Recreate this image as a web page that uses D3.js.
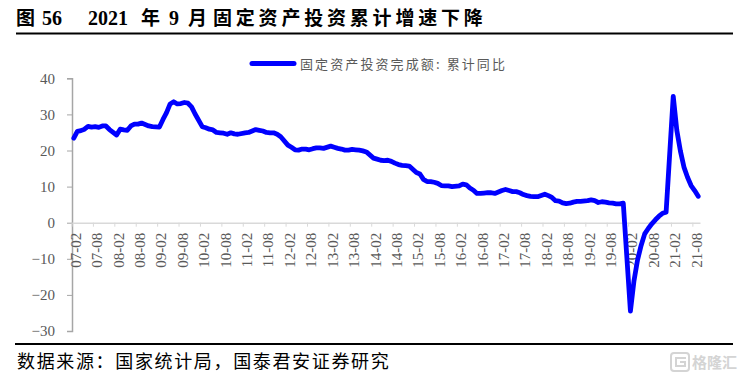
<!DOCTYPE html>
<html>
<head>
<meta charset="utf-8">
<script src="https://cdn.jsdelivr.net/npm/d3@7"></script>
<style>
html, body { margin: 0; padding: 0; background: #fff; }
svg { display: block; }
</style>
</head>
<body>
<div class="canva"></div>
<script>
const serif = '"Liberation Serif", serif'
const cjk = '"Noto Sans CJK SC", sans-serif'

// no January print in the series, each row runs Feb..Dec
const years = d3.range(2007, 2022)
const dataMonths = ['02', '03', '04', '05', '06', '07', '08', '09', '10', '11', '12']
const y2007 = [23.4, 25.3, 25.5, 25.9, 26.7, 26.5, 26.6, 26.4, 26.8, 26.8, 25.8]
const y2008 = [24.3, 25.9, 25.7, 25.6, 26.8, 27.3, 27.3, 27.6, 27.2, 26.8, 26.6]
const y2009 = [26.5, 28.6, 30.5, 32.9, 33.5, 32.9, 33.0, 33.3, 33.1, 32.1, 30.1]
const y2010 = [26.6, 26.3, 25.9, 25.7, 25.0, 24.9, 24.8, 24.5, 24.9, 24.6, 24.5]
const y2011 = [24.9, 25.0, 25.4, 25.8, 25.6, 25.4, 25.0, 24.9, 24.9, 24.5, 23.8]
const y2012 = [21.5, 20.9, 20.2, 20.1, 20.4, 20.4, 20.2, 20.5, 20.7, 20.7, 20.6]
const y2013 = [21.2, 20.9, 20.6, 20.4, 20.1, 20.1, 20.3, 20.2, 20.1, 19.9, 19.6]
const y2014 = [17.9, 17.6, 17.3, 17.2, 17.3, 17.0, 16.5, 16.1, 15.9, 15.8, 15.7]
const y2015 = [13.9, 13.5, 12.0, 11.4, 11.4, 11.2, 10.9, 10.3, 10.2, 10.2, 10.0]
const y2016 = [10.2, 10.7, 10.5, 9.6, 9.0, 8.1, 8.1, 8.2, 8.3, 8.3, 8.1]
const y2017 = [8.9, 9.2, 8.9, 8.6, 8.6, 8.3, 7.8, 7.5, 7.3, 7.2, 7.2]
const y2018 = [7.9, 7.5, 7.0, 6.1, 6.0, 5.5, 5.3, 5.4, 5.7, 5.9, 5.9]
const y2019 = [6.1, 6.3, 6.1, 5.6, 5.8, 5.7, 5.5, 5.4, 5.2, 5.2, 5.4]
const y2020 = [-24.5, -16.1, -10.3, -6.3, -3.1, -1.6, -0.3, 0.8, 1.8, 2.6, 2.9]
const y2021 = [35.0, 25.6, 19.9, 15.4, 12.6, 10.3, 8.9, 7.3]
const yearRows = [y2007, y2008, y2009, y2010, y2011, y2012, y2013, y2014, y2015, y2016, y2017, y2018, y2019, y2020, y2021]

const xTickLabels = ['07-02', '07-08', '08-02', '08-08', '09-02', '09-08', '10-02', '10-08', '11-02', '11-08',
    '12-02', '12-08', '13-02', '13-08', '14-02', '14-08', '15-02', '15-08', '16-02', '16-08',
    '17-02', '17-08', '18-02', '18-08', '19-02', '19-08', '20-02', '20-08', '21-02', '21-08']
const yTicks = [40, 30, 20, 10, 0, -10, -20, -30]

const legendLabel = '固定资产投资完成额: 累计同比'
const sourceLabel = '数据来源：国家统计局，国泰君安证券研究'

// join the rows up with their yy-mm key
const series = []
yearRows.forEach((row, i) => {
    const yy = String(years[i]).slice(2)
    row.forEach((v, j) => series.push({month: `${yy}-${dataMonths[j]}`, value: v}))
})

// every calendar month gets a band, so Excel's date axis spacing comes out right
const allMonths = []
years.forEach(yr => {
    d3.range(1, 13).forEach(m => {
        allMonths.push(`${String(yr).slice(2)}-${String(m).padStart(2, '0')}`)
    })
})
const domain = allMonths.slice(allMonths.indexOf('07-02'), allMonths.indexOf('21-09') + 1)

const svg = d3.select('.canva').append('svg')
    .attr('width', 745)
    .attr('height', 379)

const x = d3.scaleBand().domain(domain).range([72, 700])
const y = d3.scaleLinear().domain([-30, 40]).range([331, 78.3])

// title
const title = svg.append('text')
    .attr('y', 25)
    .attr('fill', '#000')
    .attr('font-weight', 'bold')
const titleParts = [
    {t: '图', at: 16, font: cjk, size: 19, gap: 0},
    {t: '56', at: 42, font: serif, size: 20, gap: 0},
    {t: '2021', at: 88, font: serif, size: 20, gap: 0},
    {t: '年', at: 141, font: cjk, size: 19, gap: 0},
    {t: '9', at: 169, font: serif, size: 20, gap: 0},
    {t: '月', at: 188, font: cjk, size: 19, gap: 0},
    {t: '固定资产投资累计增速下降', at: 213, font: cjk, size: 19, gap: 3.8}
]
title.selectAll('tspan')
    .data(titleParts)
    .enter()
    .append('tspan')
    .attr('x', d => d.at)
    .attr('font-family', d => d.font)
    .attr('font-size', d => d.size)
    .attr('letter-spacing', d => d.gap)
    .text(d => d.t)

svg.append('line').attr('x1', 16).attr('x2', 733).attr('y1', 33.5).attr('y2', 33.5)
    .attr('stroke', '#000').attr('stroke-width', 2)
svg.append('line').attr('x1', 15).attr('x2', 733).attr('y1', 344).attr('y2', 344)
    .attr('stroke', '#000').attr('stroke-width', 2)

// legend
svg.append('line').attr('x1', 252).attr('x2', 294).attr('y1', 63.5).attr('y2', 63.5)
    .attr('stroke', '#0000ff').attr('stroke-width', 5).attr('stroke-linecap', 'round')
svg.append('text')
    .attr('x', 300).attr('y', 69)
    .attr('font-family', cjk).attr('font-size', 13).attr('letter-spacing', 2.1)
    .attr('fill', '#595959')
    .text(legendLabel)

// axes
const yAxis = d3.axisLeft(y).tickValues(yTicks).tickSize(5).tickPadding(12)
const yAxisGroup = svg.append('g').attr('transform', 'translate(72, 0)').call(yAxis)
yAxisGroup.select('.domain').attr('stroke', '#a6a6a6').attr('stroke-width', 1.5)
yAxisGroup.selectAll('line').attr('stroke', '#a6a6a6').attr('stroke-width', 1)
yAxisGroup.selectAll('text')
    .attr('font-family', serif).attr('font-size', 15).attr('fill', '#595959')

const xAxis = d3.axisBottom(x).tickValues(xTickLabels).tickSize(4).tickSizeOuter(0)
const xAxisGroup = svg.append('g').attr('transform', `translate(0, ${y(0)})`).call(xAxis)
xAxisGroup.select('.domain').attr('stroke', '#d9d9d9').attr('stroke-width', 1.5)
// ticks sit on the band edge, labels a little past the band centre
xAxisGroup.selectAll('line')
    .attr('stroke', '#d9d9d9').attr('stroke-width', 1)
    .attr('transform', `translate(${-x.bandwidth() / 2}, 0)`)
xAxisGroup.selectAll('text')
    .attr('font-family', serif).attr('font-size', 15).attr('fill', '#595959')
    .attr('text-anchor', 'end')
    .attr('dy', 0)
    .attr('y', 0)
    .attr('transform', 'translate(7, 10) rotate(-90)')

// series
const line = d3.line()
    .x(d => x(d.month) + x.bandwidth() / 2)
    .y(d => y(d.value))

svg.append('path')
    .datum(series)
    .attr('fill', 'none')
    .attr('stroke', '#0000ff')
    .attr('stroke-width', 4.8)
    .attr('stroke-linejoin', 'round')
    .attr('stroke-linecap', 'round')
    .attr('d', line)

// source note
svg.append('text')
    .attr('x', 17).attr('y', 368)
    .attr('font-family', cjk).attr('font-size', 18).attr('letter-spacing', 1.65)
    .attr('fill', '#000')
    .text(sourceLabel)

// watermark
const mark = svg.append('g').attr('fill', 'none').attr('stroke', '#d4d4d4').attr('stroke-width', 2)
mark.append('rect').attr('x', 671).attr('y', 353).attr('width', 18).attr('height', 18).attr('rx', 3)
mark.append('path').attr('d', 'M686 358H676V366H685V362H680')
svg.append('text')
    .attr('x', 692).attr('y', 368)
    .attr('font-family', cjk).attr('font-size', 15).attr('font-weight', 'bold')
    .attr('fill', '#d4d4d4')
    .text('格隆汇')
</script>
</body>
</html>
